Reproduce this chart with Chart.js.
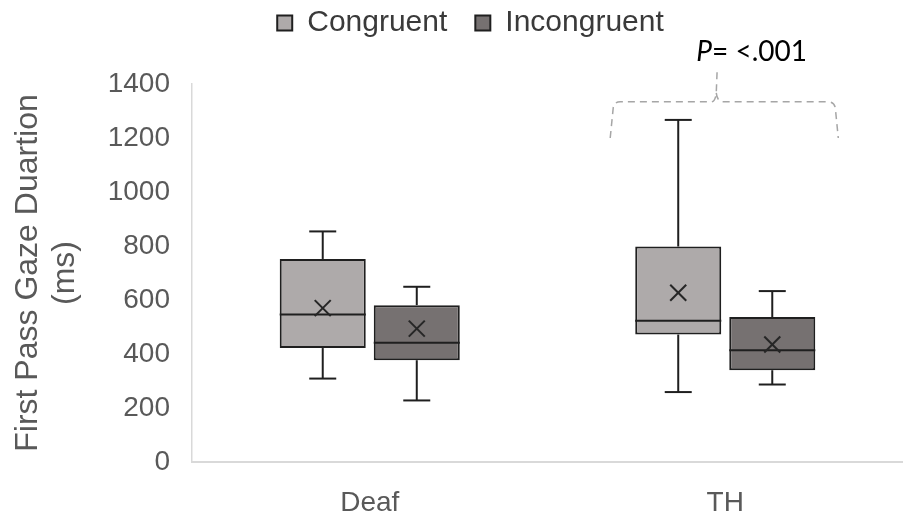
<!DOCTYPE html>
<html>
<head>
<meta charset="utf-8">
<script src="https://cdn.jsdelivr.net/npm/chart.js@4.4.1/dist/chart.umd.min.js"></script>
<style>
html, body { margin: 0; padding: 0; background: #fff; overflow: hidden; }
#wrap { width: 903px; height: 515px; position: relative; }
</style>
</head>
<body>
<div id="wrap"><canvas id="boxChart"></canvas></div>
<script>
// groups on the x axis and the two conditions
const groups = ['Deaf', 'TH'];
const seriesNames = ['Congruent', 'Incongruent'];

// box plot stats (ms)
const congruentMin = [309, 259];
const congruentQ1 = [422, 472];
const congruentMedian = [546, 523];
const congruentQ3 = [752, 798];
const congruentMax = [854, 1267];
const congruentMean = [570, 627];

const incongruentMin = [228, 287];
const incongruentQ1 = [377, 340];
const incongruentMedian = [442, 414];
const incongruentQ3 = [581, 537];
const incongruentMax = [649, 633];
const incongruentMean = [494, 435];

const yMin = 0, yMax = 1400, yStep = 200;

// significance bracket over TH
const pText = '= <.001';
const bracketLow = 1200, bracketHigh = 1334, bracketTip = 1460;

const darkLine = '#1f1f1f';
const arial = "'Liberation Sans', Arial, sans-serif";

const boxExtras = {
    id: 'boxExtras',
    beforeInit(chart) {
        // leave room between the legend and the plot
        const fit = chart.legend.fit;
        chart.legend.fit = function () { fit.call(this); this.height += 36; };
    },
    afterLayout(chart) {
        chart.legend.left += 38;
    },
    afterDatasetsDraw(chart) {
        const ctx = chart.ctx, y = chart.scales.y;
        const line = (x1, y1, x2, y2) => { ctx.beginPath(); ctx.moveTo(x1, y1); ctx.lineTo(x2, y2); ctx.stroke(); };
        ctx.save();
        ctx.lineWidth = 2;
        chart.data.datasets.forEach((ds, di) => {
            const meta = chart.getDatasetMeta(di);
            meta.data.forEach((bar, i) => {
                const s = ds.stats;
                const x = bar.x, half = bar.width / 2, cap = 13.5;
                const pMax = y.getPixelForValue(s.max[i]), pMin = y.getPixelForValue(s.min[i]);
                const pQ1 = y.getPixelForValue(s.q1[i]), pQ3 = y.getPixelForValue(s.q3[i]);
                const pMed = y.getPixelForValue(s.median[i]), pMean = y.getPixelForValue(s.mean[i]);
                ctx.strokeStyle = darkLine;
                line(x, pQ3, x, pMax);
                line(x - cap, pMax, x + cap, pMax);
                line(x, pQ1, x, pMin);
                line(x - cap, pMin, x + cap, pMin);
                line(x - half, pMed, x + half, pMed);
                // mean marker
                const m = 8;
                ctx.strokeStyle = '#262626';
                line(x - m, pMean - m, x + m, pMean + m);
                line(x - m, pMean + m, x + m, pMean - m);
            });
        });
        ctx.restore();
    },
    afterDraw(chart) {
        const ctx = chart.ctx, y = chart.scales.y;
        const b0 = chart.getDatasetMeta(0).data[1], b1 = chart.getDatasetMeta(1).data[1];
        const L = b0.x - b0.width / 2 - 25, R = b1.x + b1.width / 2 + 23;
        const tipX = (b0.x + b0.width / 2 + b1.x - b1.width / 2) / 2 - 8;
        const yLow = y.getPixelForValue(bracketLow), yHigh = y.getPixelForValue(bracketHigh), yTip = y.getPixelForValue(bracketTip);
        ctx.save();
        ctx.strokeStyle = '#a6a6a6';
        ctx.lineWidth = 1.5;
        ctx.setLineDash([7, 5]);
        ctx.beginPath();
        ctx.moveTo(L, yLow);
        ctx.lineTo(L + 3, yHigh + 6);
        ctx.quadraticCurveTo(L + 4, yHigh, L + 10, yHigh);
        ctx.lineTo(tipX - 6, yHigh);
        ctx.quadraticCurveTo(tipX - 2, yHigh, tipX - 1, yHigh - 9);
        ctx.lineTo(tipX, yTip);
        ctx.moveTo(tipX - 1, yHigh - 9);
        ctx.quadraticCurveTo(tipX, yHigh, tipX + 6, yHigh);
        ctx.lineTo(R - 10, yHigh);
        ctx.quadraticCurveTo(R - 4, yHigh, R - 3, yHigh + 6);
        ctx.lineTo(R, yLow);
        ctx.stroke();
        ctx.setLineDash([]);
        // p value label
        ctx.fillStyle = '#000';
        ctx.textBaseline = 'alphabetic';
        ctx.font = 'italic 28px Lato';
        const tx = tipX - 21, ty = yTip - 7;
        ctx.fillText('P', tx, ty);
        const pw = ctx.measureText('P').width;
        ctx.font = '28px Lato';
        ctx.fillText(pText, tx + pw, ty);
        ctx.restore();
    }
};

new Chart(document.getElementById('boxChart'), {
    type: 'bar',
    data: {
        labels: groups,
        datasets: [{
            label: seriesNames[0],
            data: groups.map((g, i) => [congruentQ1[i], congruentQ3[i]]),
            stats: {min: congruentMin, q1: congruentQ1, median: congruentMedian, q3: congruentQ3, max: congruentMax, mean: congruentMean},
            backgroundColor: '#aeaaaa',
            borderColor: darkLine,
            borderWidth: 2,
            borderSkipped: false
        }, {
            label: seriesNames[1],
            data: groups.map((g, i) => [incongruentQ1[i], incongruentQ3[i]]),
            stats: {min: incongruentMin, q1: incongruentQ1, median: incongruentMedian, q3: incongruentQ3, max: incongruentMax, mean: incongruentMean},
            backgroundColor: '#767171',
            borderColor: darkLine,
            borderWidth: 2,
            borderSkipped: false
        }]
    },
    options: {
        responsive: true,
        maintainAspectRatio: false,
        animation: false,
        categoryPercentage: 0.529,
        barPercentage: 0.915,
        layout: { padding: { top: -20, left: 0, right: 0, bottom: 0 } },
        plugins: {
            tooltip: { enabled: false },
            legend: {
                position: 'top',
                labels: {
                    boxWidth: 15,
                    boxHeight: 15,
                    padding: 28,
                    color: '#3a3a3a',
                    font: { family: arial, size: 30 }
                }
            }
        },
        scales: {
            x: {
                grid: { display: false },
                border: { display: true, color: '#d9d9d9', width: 2 },
                ticks: { color: '#595959', padding: 16, font: { family: arial, size: 28 } },
                afterFit(scale) { scale.height = 53; }
            },
            y: {
                min: yMin,
                max: yMax,
                grid: { display: false },
                border: { display: true, color: '#d9d9d9', width: 1.5 },
                ticks: {
                    stepSize: yStep,
                    color: '#595959',
                    padding: 14,
                    font: { family: arial, size: 28 },
                    callback: (v) => String(v)
                },
                title: {
                    display: true,
                    text: ['First Pass Gaze Duartion', '(ms)'],
                    color: '#595959',
                    padding: { top: 10, bottom: 0 },
                    font: { family: arial, size: 32, lineHeight: 1.15 }
                },
                afterFit(scale) { scale.width = 192; }
            }
        }
    },
    plugins: [boxExtras]
});
</script>
</body>
</html>
